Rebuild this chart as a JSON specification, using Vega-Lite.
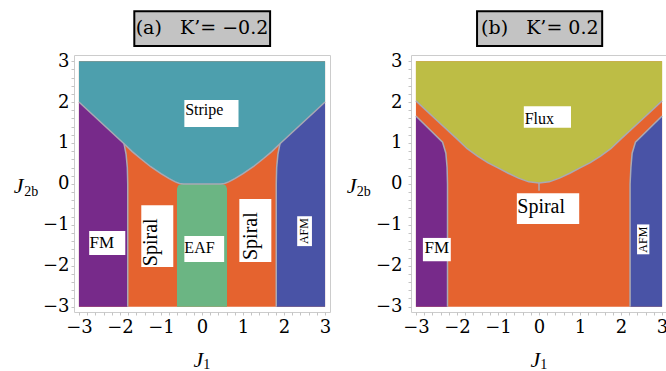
{
  "$schema": "https://vega.github.io/schema/vega-lite/v6.json",
  "background": "white",
  "padding": {"left": 13, "top": 9, "right": 0, "bottom": 0},
  "spacing": 81,
  "bounds": "flush",
  "config": {
    "view": {"stroke": "#cccccc", "strokeWidth": 1},
    "axis": {
      "domain": false, "grid": false, "tickColor": "#c4c4c4", "tickSize": 3,
      "labelFont": "DejaVu Serif", "labelFontSize": 18, "labelColor": "black",
      "labelOverlap": false, "labelFlush": false, "labelBound": false
    }
  },
  "datasets": {
    "regionsA": [
      {"region": "Stripe", "i": 0, "x": -3, "y": 3}, {"region": "Stripe", "i": 1, "x": 3, "y": 3},
      {"region": "Stripe", "i": 2, "x": 3, "y": 2}, {"region": "Stripe", "i": 3, "x": 1.9, "y": 0.98},
      {"region": "Stripe", "i": 4, "x": 1.7, "y": 0.79}, {"region": "Stripe", "i": 5, "x": 1.5, "y": 0.62},
      {"region": "Stripe", "i": 6, "x": 1.25, "y": 0.42}, {"region": "Stripe", "i": 7, "x": 1.0, "y": 0.25},
      {"region": "Stripe", "i": 8, "x": 0.8, "y": 0.13}, {"region": "Stripe", "i": 9, "x": 0.65, "y": 0.05},
      {"region": "Stripe", "i": 10, "x": 0.55, "y": 0.01}, {"region": "Stripe", "i": 11, "x": 0.45, "y": 0},
      {"region": "Stripe", "i": 12, "x": -0.45, "y": 0}, {"region": "Stripe", "i": 13, "x": -0.55, "y": 0.01},
      {"region": "Stripe", "i": 14, "x": -0.65, "y": 0.05}, {"region": "Stripe", "i": 15, "x": -0.8, "y": 0.13},
      {"region": "Stripe", "i": 16, "x": -1.0, "y": 0.25}, {"region": "Stripe", "i": 17, "x": -1.25, "y": 0.42},
      {"region": "Stripe", "i": 18, "x": -1.5, "y": 0.62}, {"region": "Stripe", "i": 19, "x": -1.7, "y": 0.79},
      {"region": "Stripe", "i": 20, "x": -1.9, "y": 0.98}, {"region": "Stripe", "i": 21, "x": -3, "y": 2},
      {"region": "FM", "i": 0, "x": -3, "y": -3}, {"region": "FM", "i": 1, "x": -3, "y": 2},
      {"region": "FM", "i": 2, "x": -1.9, "y": 0.98}, {"region": "FM", "i": 3, "x": -1.85, "y": 0.72},
      {"region": "FM", "i": 4, "x": -1.82, "y": 0.4}, {"region": "FM", "i": 5, "x": -1.81, "y": 0},
      {"region": "FM", "i": 6, "x": -1.81, "y": -3},
      {"region": "AFM", "i": 0, "x": 3, "y": -3}, {"region": "AFM", "i": 1, "x": 3, "y": 2},
      {"region": "AFM", "i": 2, "x": 1.9, "y": 0.98}, {"region": "AFM", "i": 3, "x": 1.85, "y": 0.72},
      {"region": "AFM", "i": 4, "x": 1.82, "y": 0.4}, {"region": "AFM", "i": 5, "x": 1.81, "y": 0},
      {"region": "AFM", "i": 6, "x": 1.81, "y": -3},
      {"region": "EAF", "i": 0, "x": -0.61, "y": -3}, {"region": "EAF", "i": 1, "x": -0.61, "y": -0.12},
      {"region": "EAF", "i": 2, "x": -0.58, "y": -0.04}, {"region": "EAF", "i": 3, "x": -0.5, "y": 0},
      {"region": "EAF", "i": 4, "x": 0.5, "y": 0}, {"region": "EAF", "i": 5, "x": 0.58, "y": -0.04},
      {"region": "EAF", "i": 6, "x": 0.61, "y": -0.12}, {"region": "EAF", "i": 7, "x": 0.61, "y": -3}
    ],
    "linesA": [
      {"seg": "s", "i": 0, "x": -3, "y": 2}, {"seg": "s", "i": 1, "x": -1.9, "y": 0.98},
      {"seg": "s", "i": 2, "x": -1.7, "y": 0.79}, {"seg": "s", "i": 3, "x": -1.5, "y": 0.62},
      {"seg": "s", "i": 4, "x": -1.25, "y": 0.42}, {"seg": "s", "i": 5, "x": -1.0, "y": 0.25},
      {"seg": "s", "i": 6, "x": -0.8, "y": 0.13}, {"seg": "s", "i": 7, "x": -0.65, "y": 0.05},
      {"seg": "s", "i": 8, "x": -0.55, "y": 0.01}, {"seg": "s", "i": 9, "x": -0.45, "y": 0},
      {"seg": "s", "i": 10, "x": 0.45, "y": 0}, {"seg": "s", "i": 11, "x": 0.55, "y": 0.01},
      {"seg": "s", "i": 12, "x": 0.65, "y": 0.05}, {"seg": "s", "i": 13, "x": 0.8, "y": 0.13},
      {"seg": "s", "i": 14, "x": 1.0, "y": 0.25}, {"seg": "s", "i": 15, "x": 1.25, "y": 0.42},
      {"seg": "s", "i": 16, "x": 1.5, "y": 0.62}, {"seg": "s", "i": 17, "x": 1.7, "y": 0.79},
      {"seg": "s", "i": 18, "x": 1.9, "y": 0.98}, {"seg": "s", "i": 19, "x": 3, "y": 2},
      {"seg": "fm", "i": 0, "x": -1.9, "y": 0.98}, {"seg": "fm", "i": 1, "x": -1.85, "y": 0.72},
      {"seg": "fm", "i": 2, "x": -1.82, "y": 0.4}, {"seg": "fm", "i": 3, "x": -1.81, "y": 0},
      {"seg": "fm", "i": 4, "x": -1.81, "y": -3},
      {"seg": "afm", "i": 0, "x": 1.9, "y": 0.98}, {"seg": "afm", "i": 1, "x": 1.85, "y": 0.72},
      {"seg": "afm", "i": 2, "x": 1.82, "y": 0.4}, {"seg": "afm", "i": 3, "x": 1.81, "y": 0},
      {"seg": "afm", "i": 4, "x": 1.81, "y": -3}
    ],
    "boxesA": [
      {"x": -0.43, "x2": 0.89, "y": 2.05, "y2": 1.39},
      {"x": -2.75, "x2": -1.87, "y": -1.15, "y2": -1.74},
      {"x": -1.48, "x2": -0.7, "y": -0.52, "y2": -2.03},
      {"x": -0.43, "x2": 0.54, "y": -1.27, "y2": -1.91},
      {"x": 0.91, "x2": 1.69, "y": -0.37, "y2": -1.91},
      {"x": 2.32, "x2": 2.68, "y": -0.79, "y2": -1.52}
    ],
    "labelsA": [
      {"t": "Stripe", "x": -0.41, "y": 1.68, "k": "h16"},
      {"t": "FM", "x": -2.74, "y": -1.57, "k": "h17"},
      {"t": "EAF", "x": -0.43, "y": -1.69, "k": "h16"},
      {"t": "Spiral", "x": -1.1, "y": -2.01, "k": "v20"},
      {"t": "Spiral", "x": 1.35, "y": -1.86, "k": "v20"},
      {"t": "AFM", "x": 2.59, "y": -1.47, "k": "v12"}
    ],
    "titleBoxA": [{"x": -1.65, "x2": 1.66, "y": 3.37, "y2": 4.22}],
    "titleA": [{"t": "(a)\u00a0\u00a0\u00a0K’=\u00a0−0.2", "x": 0.0, "y": 3.8}],
    "axisTextA": [
      {"t": "J", "x": -4.47, "y": -0.22, "k": "m"},
      {"t": "2b", "x": -4.33, "y": -0.3, "k": "s"},
      {"t": "J", "x": -0.09, "y": -4.48, "k": "m"},
      {"t": "1", "x": 0.03, "y": -4.53, "k": "s"}
    ],
    "regionsB": [
      {"region": "Flux", "i": 0, "x": -3, "y": 3}, {"region": "Flux", "i": 1, "x": 3, "y": 3},
      {"region": "Flux", "i": 2, "x": 3, "y": 2.03}, {"region": "Flux", "i": 3, "x": 2.5, "y": 1.56},
      {"region": "Flux", "i": 4, "x": 2.0, "y": 1.1}, {"region": "Flux", "i": 5, "x": 1.75, "y": 0.86},
      {"region": "Flux", "i": 6, "x": 1.5, "y": 0.68}, {"region": "Flux", "i": 7, "x": 1.25, "y": 0.52},
      {"region": "Flux", "i": 8, "x": 1.0, "y": 0.39}, {"region": "Flux", "i": 9, "x": 0.75, "y": 0.26},
      {"region": "Flux", "i": 10, "x": 0.5, "y": 0.14}, {"region": "Flux", "i": 11, "x": 0.25, "y": 0.05},
      {"region": "Flux", "i": 12, "x": 0, "y": 0.02}, {"region": "Flux", "i": 13, "x": -0.25, "y": 0.05},
      {"region": "Flux", "i": 14, "x": -0.5, "y": 0.14}, {"region": "Flux", "i": 15, "x": -0.75, "y": 0.26},
      {"region": "Flux", "i": 16, "x": -1.0, "y": 0.39}, {"region": "Flux", "i": 17, "x": -1.25, "y": 0.52},
      {"region": "Flux", "i": 18, "x": -1.5, "y": 0.68}, {"region": "Flux", "i": 19, "x": -1.75, "y": 0.86},
      {"region": "Flux", "i": 20, "x": -2.0, "y": 1.1}, {"region": "Flux", "i": 21, "x": -2.5, "y": 1.56},
      {"region": "Flux", "i": 22, "x": -3, "y": 2.03},
      {"region": "FM", "i": 0, "x": -3, "y": -3}, {"region": "FM", "i": 1, "x": -3, "y": 1.66},
      {"region": "FM", "i": 2, "x": -2.35, "y": 1.02}, {"region": "FM", "i": 3, "x": -2.27, "y": 0.75},
      {"region": "FM", "i": 4, "x": -2.24, "y": 0.4}, {"region": "FM", "i": 5, "x": -2.23, "y": 0},
      {"region": "FM", "i": 6, "x": -2.23, "y": -3},
      {"region": "AFM", "i": 0, "x": 3, "y": -3}, {"region": "AFM", "i": 1, "x": 3, "y": 1.66},
      {"region": "AFM", "i": 2, "x": 2.35, "y": 1.02}, {"region": "AFM", "i": 3, "x": 2.27, "y": 0.75},
      {"region": "AFM", "i": 4, "x": 2.24, "y": 0.4}, {"region": "AFM", "i": 5, "x": 2.22, "y": 0},
      {"region": "AFM", "i": 6, "x": 2.22, "y": -3}
    ],
    "linesB": [
      {"seg": "f", "i": 0, "x": -3, "y": 2.03}, {"seg": "f", "i": 1, "x": -2.5, "y": 1.56},
      {"seg": "f", "i": 2, "x": -2.0, "y": 1.1}, {"seg": "f", "i": 3, "x": -1.75, "y": 0.86},
      {"seg": "f", "i": 4, "x": -1.5, "y": 0.68}, {"seg": "f", "i": 5, "x": -1.25, "y": 0.52},
      {"seg": "f", "i": 6, "x": -1.0, "y": 0.39}, {"seg": "f", "i": 7, "x": -0.75, "y": 0.26},
      {"seg": "f", "i": 8, "x": -0.5, "y": 0.14}, {"seg": "f", "i": 9, "x": -0.25, "y": 0.05},
      {"seg": "f", "i": 10, "x": 0, "y": 0.02}, {"seg": "f", "i": 11, "x": 0.25, "y": 0.05},
      {"seg": "f", "i": 12, "x": 0.5, "y": 0.14}, {"seg": "f", "i": 13, "x": 0.75, "y": 0.26},
      {"seg": "f", "i": 14, "x": 1.0, "y": 0.39}, {"seg": "f", "i": 15, "x": 1.25, "y": 0.52},
      {"seg": "f", "i": 16, "x": 1.5, "y": 0.68}, {"seg": "f", "i": 17, "x": 1.75, "y": 0.86},
      {"seg": "f", "i": 18, "x": 2.0, "y": 1.1}, {"seg": "f", "i": 19, "x": 2.5, "y": 1.56},
      {"seg": "f", "i": 20, "x": 3, "y": 2.03},
      {"seg": "fm", "i": 0, "x": -3, "y": 1.66}, {"seg": "fm", "i": 1, "x": -2.35, "y": 1.02},
      {"seg": "fm", "i": 2, "x": -2.27, "y": 0.75}, {"seg": "fm", "i": 3, "x": -2.24, "y": 0.4},
      {"seg": "fm", "i": 4, "x": -2.23, "y": 0}, {"seg": "fm", "i": 5, "x": -2.23, "y": -3},
      {"seg": "afm", "i": 0, "x": 3, "y": 1.66}, {"seg": "afm", "i": 1, "x": 2.35, "y": 1.02},
      {"seg": "afm", "i": 2, "x": 2.27, "y": 0.75}, {"seg": "afm", "i": 3, "x": 2.24, "y": 0.4},
      {"seg": "afm", "i": 4, "x": 2.22, "y": 0}, {"seg": "afm", "i": 5, "x": 2.22, "y": -3},
      {"seg": "c", "i": 0, "x": 0, "y": 0.02}, {"seg": "c", "i": 1, "x": 0, "y": -0.17}
    ],
    "boxesB": [
      {"x": -0.37, "x2": 0.78, "y": 1.9, "y2": 1.37},
      {"x": -0.54, "x2": 0.98, "y": -0.23, "y2": -0.98},
      {"x": -2.83, "x2": -2.15, "y": -1.32, "y2": -1.89},
      {"x": 2.39, "x2": 2.69, "y": -0.99, "y2": -1.72}
    ],
    "labelsB": [
      {"t": "Flux", "x": -0.35, "y": 1.47, "k": "h16"},
      {"t": "Spiral", "x": -0.53, "y": -0.71, "k": "h20"},
      {"t": "FM", "x": -2.79, "y": -1.68, "k": "h17"},
      {"t": "AFM", "x": 2.63, "y": -1.68, "k": "v12"}
    ],
    "titleBoxB": [{"x": -1.51, "x2": 1.54, "y": 3.37, "y2": 4.22}],
    "titleB": [{"t": "(b)\u00a0\u00a0\u00a0K’=\u00a00.2", "x": 0.02, "y": 3.8}],
    "axisTextB": [
      {"t": "J", "x": -4.57, "y": -0.22, "k": "m"},
      {"t": "2b", "x": -4.44, "y": -0.3, "k": "s"},
      {"t": "J", "x": -0.09, "y": -4.48, "k": "m"},
      {"t": "1", "x": 0.03, "y": -4.53, "k": "s"}
    ]
  },
  "hconcat": [
    {
      "width": 256, "height": 257,
      "encoding": {
        "x": {"field": "x", "type": "quantitative",
          "scale": {"domain": [-3.12, 3.12], "nice": false, "zero": false},
          "axis": {"title": null, "values": [-3,-2.8,-2.6,-2.4,-2.2,-2,-1.8,-1.6,-1.4,-1.2,-1,-0.8,-0.6,-0.4,-0.2,0,0.2,0.4,0.6,0.8,1,1.2,1.4,1.6,1.8,2,2.2,2.4,2.6,2.8,3],
            "labelExpr": "abs(datum.value - round(datum.value)) < 0.001 ? format(round(datum.value), 'd') : ''",
            "labelPadding": 3}},
        "y": {"field": "y", "type": "quantitative",
          "scale": {"domain": [-3.13, 3.15], "nice": false, "zero": false},
          "axis": {"title": null, "values": [-3,-2.8,-2.6,-2.4,-2.2,-2,-1.8,-1.6,-1.4,-1.2,-1,-0.8,-0.6,-0.4,-0.2,0,0.2,0.4,0.6,0.8,1,1.2,1.4,1.6,1.8,2,2.2,2.4,2.6,2.8,3],
            "labelExpr": "abs(datum.value - round(datum.value)) < 0.001 ? format(round(datum.value), 'd') : ''",
            "labelPadding": 2}}
      },
      "layer": [
        {"data": {"values": [{"x": -3, "x2": 3, "y": -3, "y2": 3}]},
         "mark": {"type": "rect", "color": "#e5632f"},
         "encoding": {"x2": {"field": "x2"}, "y2": {"field": "y2"}}},
        {"data": {"name": "regionsA"},
         "mark": {"type": "line", "filled": true, "strokeWidth": 0},
         "encoding": {"order": {"field": "i", "type": "quantitative"},
           "color": {"field": "region", "type": "nominal", "legend": null,
             "scale": {"domain": ["Stripe", "FM", "AFM", "EAF", "Flux", "Spiral"],
               "range": ["#4d9fad", "#772a8a", "#4953a6", "#6bb583", "#bdbd45", "#e5632f"]}}}},
        {"data": {"name": "linesA"},
         "mark": {"type": "line", "color": "#a9a9b4", "strokeWidth": 1.5},
         "encoding": {"order": {"field": "i", "type": "quantitative"}, "detail": {"field": "seg", "type": "nominal"}}},
        {"data": {"name": "boxesA"},
         "mark": {"type": "rect", "color": "white"},
         "encoding": {"x2": {"field": "x2"}, "y2": {"field": "y2"}}},
        {"data": {"name": "labelsA"}, "transform": [{"filter": "datum.k == 'h16'"}],
         "mark": {"type": "text", "font": "Liberation Serif", "fontSize": 16, "align": "left", "baseline": "alphabetic", "color": "black"},
         "encoding": {"text": {"field": "t"}}},
        {"data": {"name": "labelsA"}, "transform": [{"filter": "datum.k == 'h17'"}],
         "mark": {"type": "text", "font": "Liberation Serif", "fontSize": 17, "align": "left", "baseline": "alphabetic", "color": "black"},
         "encoding": {"text": {"field": "t"}}},
        {"data": {"name": "labelsA"}, "transform": [{"filter": "datum.k == 'v20'"}],
         "mark": {"type": "text", "font": "Liberation Serif", "fontSize": 20, "align": "left", "baseline": "alphabetic", "angle": 270, "color": "black"},
         "encoding": {"text": {"field": "t"}}},
        {"data": {"name": "labelsA"}, "transform": [{"filter": "datum.k == 'v12'"}],
         "mark": {"type": "text", "font": "Liberation Serif", "fontSize": 12, "align": "left", "baseline": "alphabetic", "angle": 270, "color": "black"},
         "encoding": {"text": {"field": "t"}}},
        {"data": {"name": "titleBoxA"},
         "mark": {"type": "rect", "fill": "#c3c3c3", "stroke": "black", "strokeWidth": 2},
         "encoding": {"x2": {"field": "x2"}, "y2": {"field": "y2"}}},
        {"data": {"name": "titleA"},
         "mark": {"type": "text", "font": "DejaVu Serif", "fontSize": 19, "align": "center", "baseline": "middle", "color": "black"},
         "encoding": {"text": {"field": "t"}}},
        {"data": {"name": "axisTextA"}, "transform": [{"filter": "datum.k == 'm'"}],
         "mark": {"type": "text", "font": "Liberation Serif", "fontStyle": "italic", "fontSize": 22, "align": "center", "baseline": "alphabetic", "color": "black"},
         "encoding": {"text": {"field": "t"}}},
        {"data": {"name": "axisTextA"}, "transform": [{"filter": "datum.k == 's'"}],
         "mark": {"type": "text", "font": "Liberation Serif", "fontSize": 14, "align": "left", "baseline": "alphabetic", "color": "black"},
         "encoding": {"text": {"field": "t"}}}
      ]
    },
    {
      "width": 256, "height": 257,
      "encoding": {
        "x": {"field": "x", "type": "quantitative",
          "scale": {"domain": [-3.12, 3.12], "nice": false, "zero": false},
          "axis": {"title": null, "values": [-3,-2.8,-2.6,-2.4,-2.2,-2,-1.8,-1.6,-1.4,-1.2,-1,-0.8,-0.6,-0.4,-0.2,0,0.2,0.4,0.6,0.8,1,1.2,1.4,1.6,1.8,2,2.2,2.4,2.6,2.8,3],
            "labelExpr": "abs(datum.value - round(datum.value)) < 0.001 ? format(round(datum.value), 'd') : ''",
            "labelPadding": 3}},
        "y": {"field": "y", "type": "quantitative",
          "scale": {"domain": [-3.13, 3.15], "nice": false, "zero": false},
          "axis": {"title": null, "values": [-3,-2.8,-2.6,-2.4,-2.2,-2,-1.8,-1.6,-1.4,-1.2,-1,-0.8,-0.6,-0.4,-0.2,0,0.2,0.4,0.6,0.8,1,1.2,1.4,1.6,1.8,2,2.2,2.4,2.6,2.8,3],
            "labelExpr": "abs(datum.value - round(datum.value)) < 0.001 ? format(round(datum.value), 'd') : ''",
            "labelPadding": 6}}
      },
      "layer": [
        {"data": {"values": [{"x": -3, "x2": 3, "y": -3, "y2": 3}]},
         "mark": {"type": "rect", "color": "#e5632f"},
         "encoding": {"x2": {"field": "x2"}, "y2": {"field": "y2"}}},
        {"data": {"name": "regionsB"},
         "mark": {"type": "line", "filled": true, "strokeWidth": 0},
         "encoding": {"order": {"field": "i", "type": "quantitative"},
           "color": {"field": "region", "type": "nominal", "legend": null,
             "scale": {"domain": ["Stripe", "FM", "AFM", "EAF", "Flux", "Spiral"],
               "range": ["#4d9fad", "#772a8a", "#4953a6", "#6bb583", "#bdbd45", "#e5632f"]}}}},
        {"data": {"name": "linesB"},
         "mark": {"type": "line", "color": "#a9a9b4", "strokeWidth": 1.5},
         "encoding": {"order": {"field": "i", "type": "quantitative"}, "detail": {"field": "seg", "type": "nominal"}}},
        {"data": {"name": "boxesB"},
         "mark": {"type": "rect", "color": "white"},
         "encoding": {"x2": {"field": "x2"}, "y2": {"field": "y2"}}},
        {"data": {"name": "labelsB"}, "transform": [{"filter": "datum.k == 'h16'"}],
         "mark": {"type": "text", "font": "Liberation Serif", "fontSize": 16, "align": "left", "baseline": "alphabetic", "color": "black"},
         "encoding": {"text": {"field": "t"}}},
        {"data": {"name": "labelsB"}, "transform": [{"filter": "datum.k == 'h17'"}],
         "mark": {"type": "text", "font": "Liberation Serif", "fontSize": 17, "align": "left", "baseline": "alphabetic", "color": "black"},
         "encoding": {"text": {"field": "t"}}},
        {"data": {"name": "labelsB"}, "transform": [{"filter": "datum.k == 'h20'"}],
         "mark": {"type": "text", "font": "Liberation Serif", "fontSize": 20, "align": "left", "baseline": "alphabetic", "color": "black"},
         "encoding": {"text": {"field": "t"}}},
        {"data": {"name": "labelsB"}, "transform": [{"filter": "datum.k == 'v12'"}],
         "mark": {"type": "text", "font": "Liberation Serif", "fontSize": 12, "align": "left", "baseline": "alphabetic", "angle": 270, "color": "black"},
         "encoding": {"text": {"field": "t"}}},
        {"data": {"name": "titleBoxB"},
         "mark": {"type": "rect", "fill": "#c3c3c3", "stroke": "black", "strokeWidth": 2},
         "encoding": {"x2": {"field": "x2"}, "y2": {"field": "y2"}}},
        {"data": {"name": "titleB"},
         "mark": {"type": "text", "font": "DejaVu Serif", "fontSize": 19, "align": "center", "baseline": "middle", "color": "black"},
         "encoding": {"text": {"field": "t"}}},
        {"data": {"name": "axisTextB"}, "transform": [{"filter": "datum.k == 'm'"}],
         "mark": {"type": "text", "font": "Liberation Serif", "fontStyle": "italic", "fontSize": 22, "align": "center", "baseline": "alphabetic", "color": "black"},
         "encoding": {"text": {"field": "t"}}},
        {"data": {"name": "axisTextB"}, "transform": [{"filter": "datum.k == 's'"}],
         "mark": {"type": "text", "font": "Liberation Serif", "fontSize": 14, "align": "left", "baseline": "alphabetic", "color": "black"},
         "encoding": {"text": {"field": "t"}}}
      ]
    }
  ]
}
